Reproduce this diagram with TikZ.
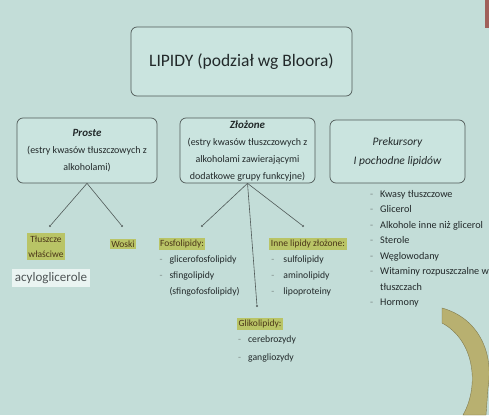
\documentclass[tikz,border=0pt]{standalone}
\usepackage{fontspec}
\setmainfont{Carlito}
\usepackage{xcolor}
\usepackage{tikz}
\usetikzlibrary{positioning}
\definecolor{slidebg}{HTML}{C3DDD8}
\definecolor{boxfill}{HTML}{CAE4DF}
\definecolor{boxline}{HTML}{505A58}
\definecolor{inktext}{HTML}{22292A}
\definecolor{hlgreen}{HTML}{B9C466}
\definecolor{hltext}{HTML}{4A3518}
\definecolor{dashgray}{HTML}{7F8C89}
\definecolor{arcolive}{HTML}{B8B070}
\definecolor{edgered}{HTML}{A0605A}

\newcommand{\itm}[2][10pt]{\makebox[#1][l]{\textcolor{dashgray}{-}}#2}

\tikzset{
  catbox/.style={draw=boxline, fill=boxfill, rounded corners=6pt, line width=0.7pt,
                 align=center, text=inktext, inner sep=2pt},
  hlbox/.style={fill=hlgreen, text=hltext, inner xsep=1.5pt, inner ysep=2pt,
                font=\fontsize{9.5}{10}\selectfont, align=center},
  itemlist/.style={align=left, text=inktext, inner sep=0pt},
  dotmark/.style={circle, fill=boxline, inner sep=0pt, minimum size=2.2pt},
  link/.style={draw=boxline, line width=0.6pt},
}

\begin{document}
\begin{tikzpicture}[x=1pt, y=-1pt]
  \fill[slidebg] (0,0) rectangle (489,415);
  \useasboundingbox (0,0) rectangle (489,415);
  \fill[edgered] (485,0) rectangle (489,28);

  % main boxes
  \node[catbox, minimum width=221pt, minimum height=69pt,
        font=\fontsize{17.5}{19}\selectfont] (lipidy) at (241.5,61.5) {LIPIDY (podział wg Bloora)};
  \node[catbox, minimum width=140pt, minimum height=65pt,
        font=\fontsize{10}{17}\selectfont] (proste) at (87,150.5)
        {{\fontsize{11}{17}\selectfont\bfseries\itshape Proste}\\(estry kwasów tłuszczowych z\\alkoholami)};
  \node[catbox, minimum width=135pt, minimum height=65pt,
        font=\fontsize{10}{17}\selectfont] (zlozone) at (247.5,150.5)
        {{\fontsize{11}{17}\selectfont\bfseries\itshape Złożone}\\(estry kwasów tłuszczowych z\\alkoholami zawierającymi\\dodatkowe grupy funkcyjne)};
  \node[catbox, minimum width=135pt, minimum height=63pt,
        font=\fontsize{11.5}{19}\selectfont\itshape] (prekursory) at (397.5,151.5)
        {Prekursory\\I pochodne lipidów};

  % branch ends
  \node[dotmark] (d-tluszcze) at (50,226) {};
  \node[dotmark] (d-woski) at (122,226) {};
  \node[dotmark] (d-fosfo) at (202,226) {};
  \node[dotmark] (d-inne) at (303,226) {};
  \node[dotmark] (d-gliko) at (257,306) {};
  \draw[link] (proste.south) -- (d-tluszcze);
  \draw[link] (proste.south) -- (d-woski);
  \draw[link] (zlozone.south) -- (d-fosfo);
  \draw[link] (zlozone.south) -- (d-inne);
  \draw[link] (zlozone.south) -- (d-gliko);

  % highlighted groups
  \node[hlbox, font=\fontsize{9.5}{15}\selectfont, inner ysep=3pt] (tluszcze) at (46,246.5) {Tłuszcze\\właściwe};
  \node[fill=boxfill!40!white, text=inktext!80, inner sep=3pt,
        font=\fontsize{13}{14}\selectfont] (acylo) at (51,278) {acyloglicerole};
  \node[hlbox] (woski) at (123,244) {Woski};
  \node[hlbox] (fosfo) at (182,244) {Fosfolipidy:};
  \node[hlbox] (inne) at (308,244) {Inne lipidy złożone:};
  \node[hlbox] (gliko) at (260,324) {Glikolipidy:};

  % lists
  \node[itemlist, font=\fontsize{9.7}{16}\selectfont, below right=5pt and 1pt of fosfo.south west] (fosfo-list)
    {\itm{glicerofosfolipidy}\\\itm{sfingolipidy}\\\makebox[10pt]{}(sfingofosfolipidy)};
  \node[itemlist, font=\fontsize{9.7}{16}\selectfont, below right=5pt and 2pt of inne.south west] (inne-list)
    {\itm[12pt]{sulfolipidy}\\\itm[12pt]{aminolipidy}\\\itm[12pt]{lipoproteiny}};
  \node[itemlist, font=\fontsize{9.7}{18}\selectfont, below right=5pt and 1pt of gliko.south west] (gliko-list)
    {\itm{cerebrozydy}\\\itm{gangliozydy}};
  \node[itemlist, font=\fontsize{10.2}{15.5}\selectfont, anchor=north west] (prek-list) at (370,190)
    {\itm{Kwasy tłuszczowe}\\\itm{Glicerol}\\\itm{Alkohole inne niż glicerol}\\\itm{Sterole}\\
     \itm{Węglowodany}\\\itm{Witaminy rozpuszczalne w}\\\makebox[10pt]{}tłuszczach\\\itm{Hormony}};

  % slide decoration
  \fill[arcolive, draw=arcolive!70!black, line width=0.4pt]
    (442,308) .. controls (478,318) and (494,352) .. (488,388) -- (486,415) -- (463,415)
    .. controls (480,385) and (474,340) .. (442,323) -- cycle;
\end{tikzpicture}
\end{document}
